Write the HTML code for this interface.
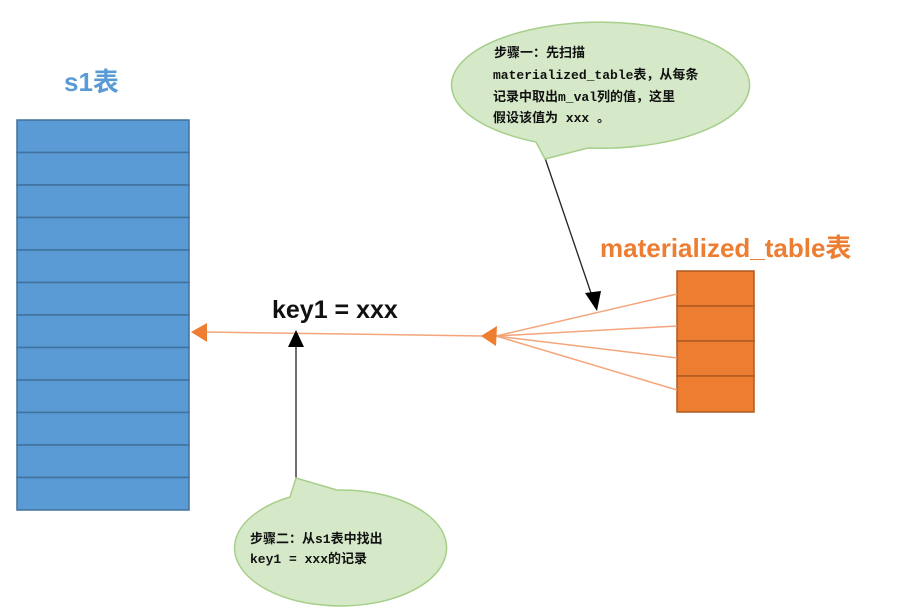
<!DOCTYPE html>
<html><head><meta charset="utf-8"><style>
html,body{margin:0;padding:0;background:#fff;}
svg{display:block;}
.m{font-family:"Liberation Mono","Noto Sans CJK SC",monospace;font-weight:bold;font-size:13px;fill:#111;}
</style></head><body>
<svg width="917" height="609" viewBox="0 0 917 609" xmlns="http://www.w3.org/2000/svg">
<defs>
<marker id="oa" markerWidth="10" markerHeight="10" refX="1" refY="5" orient="auto" markerUnits="userSpaceOnUse"></marker>
</defs>
<text x="64" y="91" font-family="Liberation Sans,Noto Sans CJK SC,sans-serif" font-weight="bold" font-size="26" fill="#5B9BD5">s1表</text>
<text x="600" y="257" font-family="Liberation Sans,Noto Sans CJK SC,sans-serif" font-weight="bold" font-size="26" fill="#ED7D31">materialized_table表</text>
<g fill="#5B9BD5" stroke="#41719C" stroke-width="1.5">
<rect x="17" y="120" width="172" height="32.5"/><rect x="17" y="152.5" width="172" height="32.5"/><rect x="17" y="185" width="172" height="32.5"/><rect x="17" y="217.5" width="172" height="32.5"/><rect x="17" y="250" width="172" height="32.5"/><rect x="17" y="282.5" width="172" height="32.5"/><rect x="17" y="315" width="172" height="32.5"/><rect x="17" y="347.5" width="172" height="32.5"/><rect x="17" y="380" width="172" height="32.5"/><rect x="17" y="412.5" width="172" height="32.5"/><rect x="17" y="445" width="172" height="32.5"/><rect x="17" y="477.5" width="172" height="32.5"/>
</g>
<g fill="#ED7D31" stroke="#AE5A21" stroke-width="1.5">
<rect x="677" y="271" width="77" height="35"/><rect x="677" y="306" width="77" height="35"/><rect x="677" y="341" width="77" height="35"/><rect x="677" y="376" width="77" height="36"/>
</g>
<g stroke="#F4A57A" stroke-width="1.5" fill="none">
<line x1="677" y1="294" x2="496" y2="336"/><line x1="677" y1="326" x2="496" y2="336"/><line x1="677" y1="358" x2="496" y2="336"/><line x1="677" y1="390" x2="496" y2="336"/>
<line x1="482" y1="336" x2="205" y2="332"/>
</g>
<polygon points="481,336 497,326 496,346" fill="#ED7D31"/>
<polygon points="191,332 207,323 207,342" fill="#ED7D31"/>
<text x="272" y="318" font-family="Liberation Sans,sans-serif" font-weight="bold" font-size="25" fill="#111">key1 = xxx</text>
<line x1="545" y1="158" x2="592" y2="296" stroke="#222" stroke-width="1.3"/>
<polygon points="597,311 585,293 601,291" fill="#000"/>
<line x1="296" y1="478" x2="296" y2="345" stroke="#222" stroke-width="1.3"/>
<polygon points="296,330 288,347 304,347" fill="#000"/>
<g fill="#D5E8C8" stroke="#A6CF8A" stroke-width="1.5">
<path d="M536,142 A149,63 0 1 1 588,148 L545,159 Z"/>
<path d="M290,497 A106,58 0 1 0 337,490 L296,478 Z"/>
</g>
<text class="m" x="494" y="57">步骤一：先扫描</text>
<text class="m" x="493" y="79">materialized_table表，从每条</text>
<text class="m" x="493" y="101">记录中取出m_val列的值，这里</text>
<text class="m" x="493" y="122">假设该值为 xxx 。</text>
<text class="m" x="250" y="543">步骤二：从s1表中找出</text>
<text class="m" x="250" y="563">key1 = xxx的记录</text>
</svg>
</body></html>
